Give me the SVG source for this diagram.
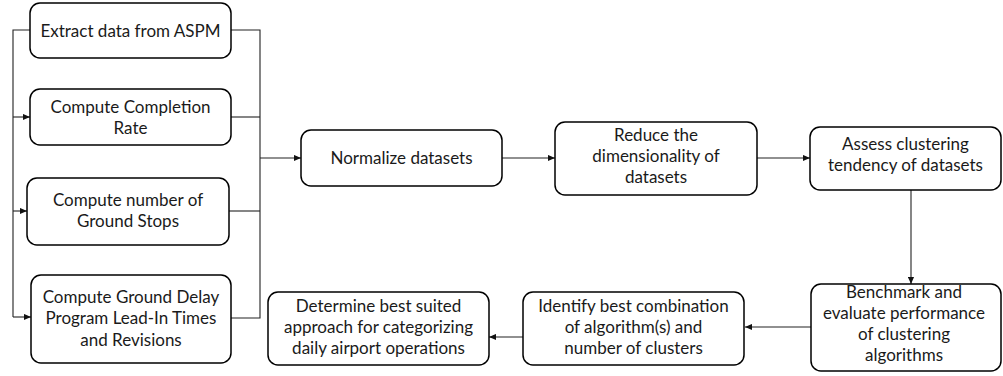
<svg xmlns="http://www.w3.org/2000/svg" width="1003" height="376" viewBox="0 0 1003 376">
<style>
.box{fill:#fff;stroke:#000;stroke-width:1.5}
.t{font-family:Lato,"Open Sans",sans-serif;font-size:17px;fill:#1a1a1a;text-anchor:middle}
.c{fill:none;stroke:#222;stroke-width:1.1}
</style>
<defs>
<marker id="ah" viewBox="0 0 8 8" refX="8" refY="4" markerWidth="7" markerHeight="7" markerUnits="userSpaceOnUse" orient="auto">
<path d="M0,0.5 L8,4 L0,7.5 Z" fill="#111"/>
</marker>
</defs>
<rect width="1003" height="376" fill="#fff"/>
<g id="connectors">
<path class="c" d="M30,30 H13 V317"/>
<path class="c" d="M13,117 H30" marker-end="url(#ah)"/>
<path class="c" d="M13,211 H27" marker-end="url(#ah)"/>
<path class="c" d="M13,317 H31" marker-end="url(#ah)"/>
<path class="c" d="M231,30 H260 V318 H231"/>
<path class="c" d="M231,117 H260"/>
<path class="c" d="M229,211 H260"/>
<path class="c" d="M260,158 H301" marker-end="url(#ah)"/>
<path class="c" d="M502,158 H555" marker-end="url(#ah)"/>
<path class="c" d="M757,158 H810" marker-end="url(#ah)"/>
<path class="c" d="M911,190 V284" marker-end="url(#ah)"/>
<path class="c" d="M811,327 H745" marker-end="url(#ah)"/>
<path class="c" d="M523,337 H489" marker-end="url(#ah)"/>
</g>
<g id="n1"><rect class="box" x="30" y="3" width="201" height="55" rx="10"/>
<text class="t" x="130.5" y="37">Extract data from ASPM</text></g>
<g id="n2"><rect class="box" x="30" y="89" width="201" height="56" rx="10"/>
<text class="t" x="130.5" y="113">Compute Completion</text><text class="t" x="130.5" y="134">Rate</text></g>
<g id="n3"><rect class="box" x="27" y="178" width="202" height="67" rx="10"/>
<text class="t" x="128" y="206">Compute number of</text><text class="t" x="128" y="227">Ground Stops</text></g>
<g id="n4"><rect class="box" x="31" y="275" width="200" height="88" rx="10"/>
<text class="t" x="131" y="303">Compute Ground Delay</text><text class="t" x="131" y="324">Program Lead-In Times</text><text class="t" x="131" y="346">and Revisions</text></g>
<g id="n5"><rect class="box" x="301" y="130" width="201" height="56" rx="10"/>
<text class="t" x="401.5" y="164">Normalize datasets</text></g>
<g id="n6"><rect class="box" x="555" y="122" width="202" height="73" rx="10"/>
<text class="t" x="656" y="141">Reduce the</text><text class="t" x="656" y="162">dimensionality of</text><text class="t" x="656" y="183">datasets</text></g>
<g id="n7"><rect class="box" x="810" y="127" width="191" height="63" rx="10"/>
<text class="t" x="905.5" y="150">Assess clustering</text><text class="t" x="905.5" y="171">tendency of datasets</text></g>
<g id="n8"><rect class="box" x="811" y="284" width="190" height="87" rx="10"/>
<text class="t" x="904" y="297.5">Benchmark and</text><text class="t" x="904" y="318.5">evaluate performance</text><text class="t" x="904" y="339.5">of clustering</text><text class="t" x="904" y="360.5">algorithms</text></g>
<g id="n9"><rect class="box" x="523" y="292" width="221" height="73" rx="10"/>
<text class="t" x="633.5" y="312">Identify best combination</text><text class="t" x="633.5" y="333">of algorithm(s) and</text><text class="t" x="633.5" y="354">number of clusters</text></g>
<g id="n10"><rect class="box" x="268" y="292" width="221" height="73" rx="10"/>
<text class="t" x="378.5" y="312">Determine best suited</text><text class="t" x="378.5" y="333">approach for categorizing</text><text class="t" x="378.5" y="354">daily airport operations</text></g>
</svg>
